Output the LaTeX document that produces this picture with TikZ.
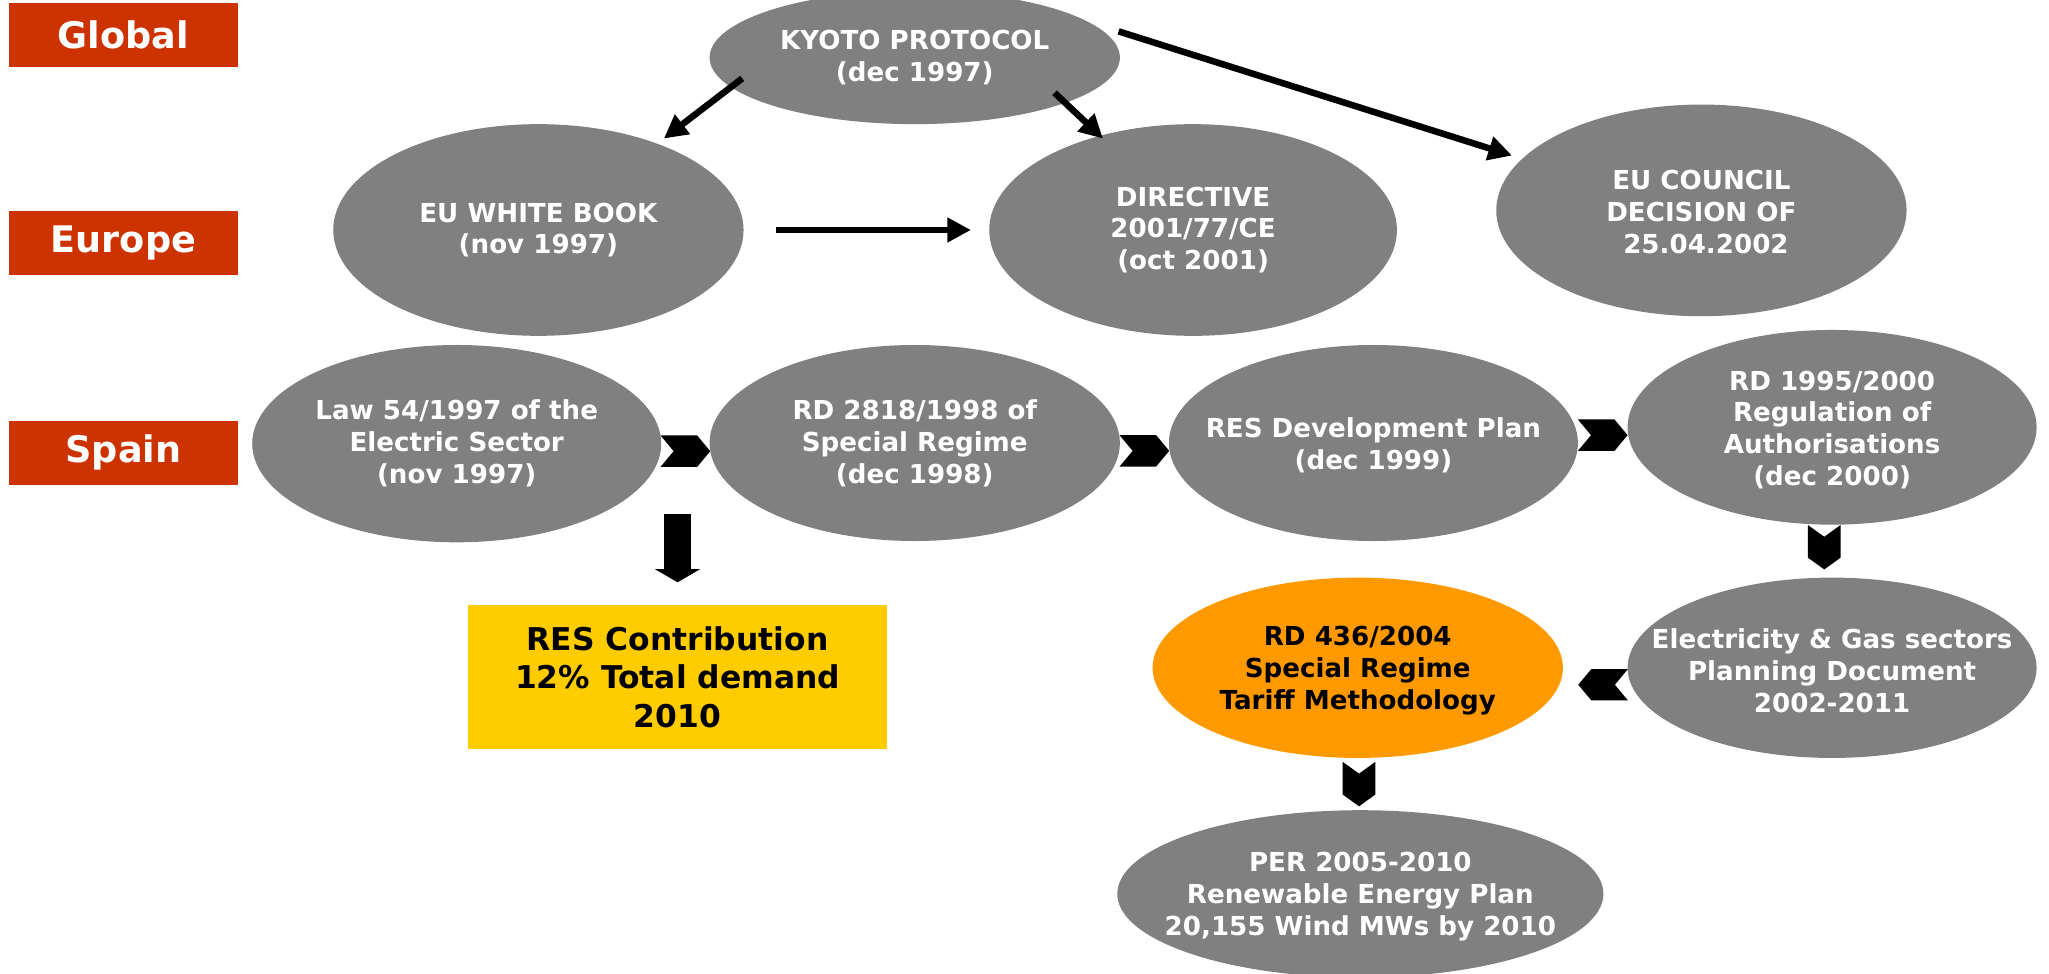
\documentclass[tikz,border=0pt]{standalone}
\usepackage{fontspec}
\setmainfont{DejaVu Sans}
\usetikzlibrary{shapes.geometric,arrows.meta,calc}
\definecolor{ellgray}{HTML}{808080}
\definecolor{lblred}{HTML}{CC3300}
\definecolor{boxyellow}{HTML}{FFCC00}
\definecolor{ellorange}{HTML}{FF9900}
\begin{document}
\begin{tikzpicture}[x=0.5pt,y=-0.5pt,
  ell/.style 2 args={ellipse, fill=ellgray, draw=none, inner sep=0pt, minimum width=#1, minimum height=#2},
  wtxt/.style={text=white, font=\fontsize{10}{12.2}\selectfont\bfseries, align=center, inner sep=0pt},
  btxt/.style={wtxt, text=black},
  arr/.style={line width=2.5pt, -{Triangle[length=9pt,width=9pt]}},
  lblbox/.style={fill=lblred, text=white, minimum width=87.5pt, minimum height=24.5pt, inner sep=0pt,
                 font=\fontsize{14}{16}\selectfont\bfseries},
  pics/chevr/.style={code={\fill[black] (-19,-12) -- (9,-12) -- (19,0) -- (9,12) -- (-19,12) -- (-9,0) -- cycle;}},
  pics/chevl/.style={code={\fill[black] (19,-12) -- (-9,-12) -- (-19,0) -- (-9,12) -- (19,12) -- (9,0) -- cycle;}},
  pics/chevd/.style={code={\fill[black] (-12.5,-17) -- (0,-8) -- (12.5,-17) -- (12.5,8) -- (0,17) -- (-12.5,8) -- cycle;}}
]
\useasboundingbox (0,0) rectangle (1568,745);

% level labels
\node[lblbox] (global) at (94.5,26.5) {Global};
\node[lblbox] (europe) at (94.5,186) {Europe};
\node[lblbox] (spain)  at (94.5,346.5) {Spain};

% global / europe
\node[ell={157pt}{51pt}] (ky) at (700,44) {};
\node[wtxt] (kyt) at (ky) {KYOTO PROTOCOL\\(dec 1997)};
\node[ell={157pt}{81pt}] (wb) at (412,176) {};
\node[wtxt] (wbt) at (wb) {EU WHITE BOOK\\(nov 1997)};
\node[ell={156pt}{81pt}] (dir) at (913,176) {};
\node[wtxt] (dirt) at (dir) {DIRECTIVE\\2001/77/CE\\(oct 2001)};
\node[ell={157pt}{81pt}] (cou) at (1302,161) {};
\node[wtxt] (cout) at ($(cou)+(0,1)$) {EU COUNCIL\\DECISION OF\\ \ 25.04.2002};

% spain
\node[ell={156.5pt}{75.5pt}] (law) at (349.5,339.5) {};
\node[wtxt] (lawt) at (law) {Law 54/1997 of the\\Electric Sector\\(nov 1997)};
\node[ell={157pt}{75pt}] (rd98) at (700,339) {};
\node[wtxt] (rd98t) at (rd98) {RD 2818/1998 of\\Special Regime\\(dec 1998)};
\node[ell={156.5pt}{75pt}] (res) at (1051,339) {};
\node[wtxt] (rest) at ($(res)+(0,2)$) {RES Development Plan\\(dec 1999)};
\node[ell={156.5pt}{74.5pt}] (rd00) at (1402,327) {};
\node[wtxt] (rd00t) at ($(rd00)+(0,2)$) {RD 1995/2000\\Regulation of\\Authorisations\\(dec 2000)};
\node[ell={156.5pt}{69pt}] (elec) at (1402,511) {};
\node[wtxt] (elect) at ($(elec)+(0,2)$) {Electricity \& Gas sectors\\Planning Document\\2002-2011};
\node[ell={157pt}{69pt}, fill=ellorange] (rd04) at (1039,511) {};
\node[btxt] (rd04t) at ($(rd04)+(0,2)$) {RD 436/2004\\Special Regime\\Tariff Methodology};
\node[ell={186pt}{64pt}] (per) at (1041,684) {};
\node[wtxt] (pert) at ($(per)+(0,2)$) {PER 2005-2010\\Renewable Energy Plan\\20,155 Wind MWs by 2010};

\node[fill=boxyellow, minimum width=160.5pt, minimum height=55pt, inner sep=0pt, align=center,
      font=\fontsize{12}{14.7}\selectfont\bfseries] (box) at (518.5,518)
      {RES Contribution\\12\% Total demand\\2010};

% arrows (global/europe)
\draw[arr] ($(ky)+(-132,16)$) -- ($(wb)+(96,-70)$);
\draw[arr] ($(ky)+(107,27)$) -- ($(dir)+(-69,-70)$);
\draw[arr] ($(ky)+(156,-20)$) -- ($(cou)+(-145,-42)$);
\draw[arr] ($(wb)+(182,0)$) -- ($(dir)+(-170,0)$);

% block arrow to RES contribution box
\draw[line width=10.5pt, -{Triangle[length=5pt,width=17pt]}]
  ($(box.north |- law.south)+(0,-22)$) -- ($(box.north)+(0,-17)$);

% chevrons
\pic at ($(law.east)!0.5!(rd98.west)+(0,6)$) {chevr};
\pic at ($(rd98.east)!0.5!(res.west)+(0,6)$) {chevr};
\pic at ($(res.east)!0.5!(rd00.west)$) {chevr};
\pic at ($(rd00.south)!0.5!(elec.north)+(-6,-3)$) {chevd};
\pic at ($(rd04.east)!0.5!(elec.west)+(6,13)$) {chevl};
\pic at ($(rd04.south)!0.5!(per.north)$) {chevd};
\end{tikzpicture}
\end{document}
